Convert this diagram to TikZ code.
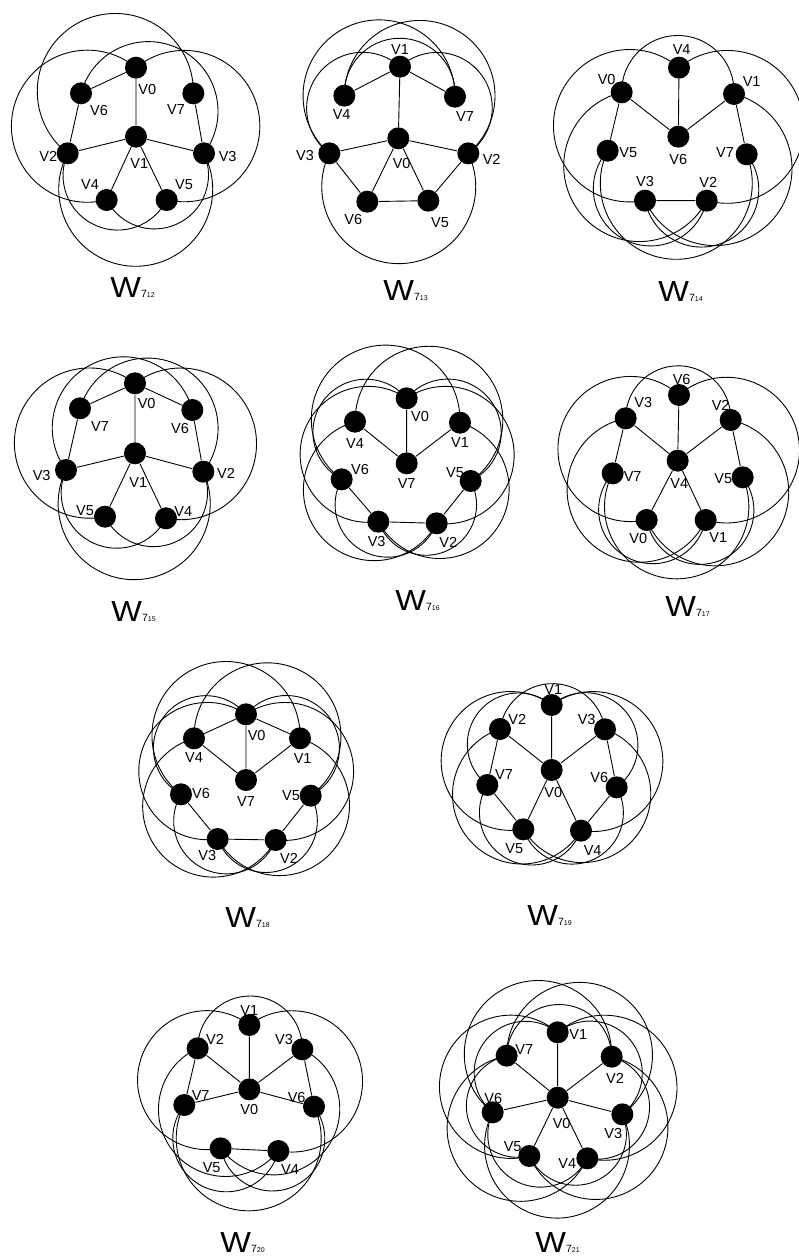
\documentclass[tikz,border=0pt]{standalone}
\usepackage{fontspec}
\usepackage{graphicx}
\setmainfont{Liberation Sans}
\usetikzlibrary{calc}
\tikzset{
 vx/.style={circle,fill=black,inner sep=0pt,minimum size=22pt},
 lb/.style={inner sep=0pt,font=\fontsize{14.5}{15}\selectfont},
 ttl/.style={inner sep=0pt,anchor=base west},
 gsc/.style={x=0.333333pt,y=-0.333333pt}
}
\newcommand\wttl[1]{\scalebox{1.12}[1]{\fontsize{29}{29}\selectfont W}{\fontsize{10.5}{10}\selectfont 7}{\fontsize{7}{7}\selectfont #1}}
% circular arc from node #1 to node #2, centre near (#3,#4), sense #5 (1 ccw, -1 cw)
\newcommand\carc[5]{%
 \pgfpointanchor{#1}{center}\pgfgetlastxy{\CAx}{\CAy}%
 \pgfpointanchor{#2}{center}\pgfgetlastxy{\CBx}{\CBy}%
 \pgfpointxy{#3}{#4}\pgfgetlastxy{\CQx}{\CQy}%
 \pgfmathsetmacro\CD{veclen((\CBx)-(\CAx),(\CBy)-(\CAy))}%
 \pgfmathsetmacro\CMx{((\CAx)+(\CBx))/2}%
 \pgfmathsetmacro\CMy{((\CAy)+(\CBy))/2}%
 \pgfmathsetmacro\CNx{((\CAy)-(\CBy))/(\CD)}%
 \pgfmathsetmacro\CNy{((\CBx)-(\CAx))/(\CD)}%
 \pgfmathsetmacro\CH{((\CQx)-(\CMx))*(\CNx)+((\CQy)-(\CMy))*(\CNy)}%
 \pgfmathsetmacro\CCx{(\CMx)+(\CH)*(\CNx)}%
 \pgfmathsetmacro\CCy{(\CMy)+(\CH)*(\CNy)}%
 \pgfmathsetmacro\CR{veclen((\CAx)-(\CCx),(\CAy)-(\CCy))}%
 \pgfmathsetmacro\CSa{atan2((\CAy)-(\CCy),(\CAx)-(\CCx))}%
 \pgfmathsetmacro\CSb{atan2((\CBy)-(\CCy),(\CBx)-(\CCx))}%
 \pgfmathsetmacro\CE{(\CSb)+360*((#5)>0)*((\CSb)<(\CSa))-360*((#5)<0)*((\CSb)>(\CSa))}%
 \draw (#1.center) arc[start angle=\CSa, end angle=\CE, radius=\CR pt];%
}
\begin{document}
\begin{tikzpicture}[x=1pt,y=-1pt,line width=0.9pt]
\useasboundingbox (0,0) rectangle (799,1258);
\fill[white] (0,0) rectangle (799,1258);

% ---------- W7_12 ----------
\begin{scope}[shift={(0,0)},gsc]
\node[vx] (a0) at (408,203) {};
\node[vx] (a1) at (408,410) {};
\node[vx] (a2) at (203,460) {};
\node[vx] (a3) at (612,460) {};
\node[vx] (a4) at (320,600) {};
\node[vx] (a5) at (500,600) {};
\node[vx] (a6) at (243,280) {};
\node[vx] (a7) at (580,280) {};
\node[lb] (la0) at (442,270) {V0};
\node[lb] (la1) at (418,490) {V1};
\node[lb] (la2) at (145,468) {V2};
\node[lb] (la3) at (683,470) {V3};
\node[lb] (la4) at (270,555) {V4};
\node[lb] (la5) at (552,555) {V5};
\node[lb] (la6) at (297,333) {V6};
\node[lb] (la7) at (528,330) {V7};
\draw (a0)--(a6) (a0)--(a1) (a6)--(a2) (a7)--(a3) (a1)--(a2) (a1)--(a3) (a1)--(a4) (a1)--(a5);
\carc{a7}{a2}{345}{275}{1}
\carc{a6}{a3}{445}{334}{-1}
\carc{a0}{a4}{262}{380}{1}
\carc{a0}{a5}{553}{380}{-1}
\carc{a2}{a3}{407}{568}{1}
\carc{a2}{a5}{353}{526}{1}
\carc{a3}{a4}{461}{526}{-1}
\end{scope}
\node[ttl] (t1) at (110,297) {\wttl{12}};

% ---------- W7_13 ----------
\begin{scope}[shift={(265,0)},gsc]
\node[vx] (b0) at (400,415) {};
\node[vx] (b1) at (405,200) {};
\node[vx] (b2) at (610,460) {};
\node[vx] (b3) at (193,460) {};
\node[vx] (b4) at (238,287) {};
\node[vx] (b5) at (490,602) {};
\node[vx] (b6) at (307,605) {};
\node[vx] (b7) at (570,290) {};
\node[lb] (lb0) at (410,490) {V0};
\node[lb] (lb1) at (405,150) {V1};
\node[lb] (lb2) at (680,478) {V2};
\node[lb] (lb3) at (120,468) {V3};
\node[lb] (lb4) at (230,345) {V4};
\node[lb] (lb5) at (525,668) {V5};
\node[lb] (lb6) at (265,660) {V6};
\node[lb] (lb7) at (600,350) {V7};
\draw (b1)--(b4) (b1)--(b7) (b1)--(b0) (b0)--(b3) (b0)--(b2) (b0)--(b6) (b0)--(b5) (b3)--(b6) (b6)--(b5) (b5)--(b2);
\carc{b4}{b7}{404}{281}{-1}
\carc{b4}{b2}{476}{293}{-1}
\carc{b7}{b3}{330}{293}{1}
\carc{b1}{b3}{290}{328}{1}
\carc{b1}{b2}{520}{328}{-1}
\carc{b3}{b2}{400}{560}{1}
\end{scope}
\node[ttl] (t2) at (383,300) {\wttl{13}};

% ---------- W7_14 ----------
\begin{scope}[shift={(530,0)},gsc]
\node[vx] (c0) at (275,277) {};
\node[vx] (c1) at (612,282) {};
\node[vx] (c2) at (530,602) {};
\node[vx] (c3) at (345,602) {};
\node[vx] (c4) at (447,203) {};
\node[vx] (c5) at (233,452) {};
\node[vx] (c6) at (445,410) {};
\node[vx] (c7) at (650,463) {};
\node[lb] (lc0) at (230,240) {V0};
\node[lb] (lc1) at (665,245) {V1};
\node[lb] (lc2) at (535,548) {V2};
\node[lb] (lc3) at (345,545) {V3};
\node[lb] (lc4) at (455,150) {V4};
\node[lb] (lc5) at (295,458) {V5};
\node[lb] (lc6) at (445,480) {V6};
\node[lb] (lc7) at (585,458) {V7};
\draw (c4)--(c6) (c0)--(c6) (c1)--(c6) (c0)--(c5) (c1)--(c7) (c3)--(c2);
\carc{c0}{c1}{445}{275}{-1}
\carc{c4}{c3}{298}{380}{1}
\carc{c4}{c2}{592}{380}{-1}
\carc{c0}{c2}{330}{500}{1}
\carc{c1}{c3}{560}{500}{-1}
\carc{c5}{c7}{441}{550}{1}
\carc{c3}{c7}{514}{569}{1}
\carc{c2}{c5}{368}{569}{-1}
\end{scope}
\node[ttl] (t3) at (658,301) {\wttl{14}};

% ---------- W7_15 ----------
\begin{scope}[shift={(0,320)},gsc]
\node[vx] (d0) at (405,190) {};
\node[vx] (d1) at (405,400) {};
\node[vx] (d2) at (610,455) {};
\node[vx] (d3) at (198,450) {};
\node[vx] (d4) at (498,595) {};
\node[vx] (d5) at (315,590) {};
\node[vx] (d6) at (577,270) {};
\node[vx] (d7) at (240,265) {};
\node[lb] (ld0) at (440,250) {V0};
\node[lb] (ld1) at (415,487) {V1};
\node[lb] (ld2) at (678,460) {V2};
\node[lb] (ld3) at (125,467) {V3};
\node[lb] (ld4) at (550,575) {V4};
\node[lb] (ld5) at (255,573) {V5};
\node[lb] (ld6) at (540,325) {V6};
\node[lb] (ld7) at (300,320) {V7};
\draw (d0)--(d7) (d0)--(d6) (d0)--(d1) (d7)--(d3) (d6)--(d2) (d1)--(d3) (d1)--(d2) (d1)--(d5) (d1)--(d4);
\carc{d3}{d6}{370}{324}{-1}
\carc{d2}{d7}{440}{324}{1}
\carc{d0}{d5}{266}{380}{1}
\carc{d0}{d4}{544}{380}{-1}
\carc{d3}{d2}{404}{551}{1}
\carc{d3}{d4}{350}{518}{1}
\carc{d2}{d5}{460}{518}{-1}
\end{scope}
\node[ttl] (t4) at (111,621) {\wttl{15}};

% ---------- W7_16 ----------
\begin{scope}[shift={(265,320)},gsc]
\node[vx] (e0) at (425,235) {};
\node[vx] (e1) at (585,308) {};
\node[vx] (e2) at (515,610) {};
\node[vx] (e3) at (340,605) {};
\node[vx] (e4) at (270,305) {};
\node[vx] (e5) at (617,483) {};
\node[vx] (e6) at (230,478) {};
\node[vx] (e7) at (425,430) {};
\node[lb] (le0) at (465,290) {V0};
\node[lb] (le1) at (585,368) {V1};
\node[lb] (le2) at (550,668) {V2};
\node[lb] (le3) at (335,665) {V3};
\node[lb] (le4) at (270,370) {V4};
\node[lb] (le5) at (570,458) {V5};
\node[lb] (le6) at (285,450) {V6};
\node[lb] (le7) at (425,490) {V7};
\draw (e0)--(e7) (e4)--(e7) (e1)--(e7) (e6)--(e3) (e5)--(e2) (e3)--(e2);
\carc{e6}{e1}{362}{298}{-1}
\carc{e5}{e4}{488}{298}{1}
\carc{e0}{e6}{300}{340}{1}
\carc{e0}{e5}{550}{340}{-1}
\carc{e4}{e2}{320}{500}{1}
\carc{e1}{e3}{530}{500}{-1}
\carc{e6}{e2}{380}{560}{1}
\carc{e5}{e3}{470}{560}{-1}
\carc{e0}{e3}{310}{400}{1}
\carc{e0}{e2}{540}{400}{-1}
\end{scope}
\node[ttl] (t5) at (395,610) {\wttl{16}};

% ---------- W7_17 ----------
\begin{scope}[shift={(530,320)},gsc]
\node[vx] (f0) at (350,600) {};
\node[vx] (f1) at (527,600) {};
\node[vx] (f2) at (602,300) {};
\node[vx] (f3) at (287,295) {};
\node[vx] (f4) at (443,422) {};
\node[vx] (f5) at (638,472) {};
\node[vx] (f6) at (447,225) {};
\node[vx] (f7) at (248,460) {};
\node[lb] (lf0) at (325,655) {V0};
\node[lb] (lf1) at (565,652) {V1};
\node[lb] (lf2) at (572,255) {V2};
\node[lb] (lf3) at (340,248) {V3};
\node[lb] (lf4) at (448,490) {V4};
\node[lb] (lf5) at (580,475) {V5};
\node[lb] (lf6) at (455,178) {V6};
\node[lb] (lf7) at (308,470) {V7};
\draw (f6)--(f4) (f3)--(f4) (f2)--(f4) (f4)--(f0) (f4)--(f1) (f3)--(f7) (f2)--(f5);
\carc{f3}{f2}{445}{295}{-1}
\carc{f6}{f0}{298}{400}{1}
\carc{f6}{f1}{592}{400}{-1}
\carc{f3}{f1}{330}{510}{1}
\carc{f2}{f0}{560}{510}{-1}
\carc{f7}{f5}{441}{560}{1}
\carc{f0}{f5}{514}{569}{1}
\carc{f1}{f7}{368}{569}{-1}
\end{scope}
\node[ttl] (t6) at (665,616) {\wttl{17}};

% ---------- W7_18 ----------
\begin{scope}[shift={(120,630)},gsc]
\node[vx] (g0) at (378,253) {};
\node[vx] (g1) at (540,325) {};
\node[vx] (g2) at (467,630) {};
\node[vx] (g3) at (293,627) {};
\node[vx] (g4) at (222,325) {};
\node[vx] (g5) at (572,497) {};
\node[vx] (g6) at (183,493) {};
\node[vx] (g7) at (378,450) {};
\node[lb] (lg0) at (410,318) {V0};
\node[lb] (lg1) at (548,385) {V1};
\node[lb] (lg2) at (507,685) {V2};
\node[lb] (lg3) at (262,678) {V3};
\node[lb] (lg4) at (222,383) {V4};
\node[lb] (lg5) at (513,497) {V5};
\node[lb] (lg6) at (243,490) {V6};
\node[lb] (lg7) at (378,515) {V7};
\draw (g0)--(g4) (g0)--(g1) (g0)--(g7) (g4)--(g7) (g1)--(g7) (g6)--(g3) (g5)--(g2) (g3)--(g2);
\carc{g6}{g1}{315}{318}{-1}
\carc{g5}{g4}{441}{318}{1}
\carc{g0}{g6}{253}{360}{1}
\carc{g0}{g5}{503}{360}{-1}
\carc{g4}{g2}{273}{520}{1}
\carc{g1}{g3}{483}{520}{-1}
\carc{g6}{g2}{333}{580}{1}
\carc{g5}{g3}{423}{580}{-1}
\carc{g0}{g3}{263}{420}{1}
\carc{g0}{g2}{493}{420}{-1}
\end{scope}
\node[ttl] (t7) at (225,927) {\wttl{18}};

% ---------- W7_19 ----------
\begin{scope}[shift={(400,630)},gsc]
\node[vx] (h0) at (455,420) {};
\node[vx] (h1) at (455,225) {};
\node[vx] (h2) at (300,297) {};
\node[vx] (h3) at (615,298) {};
\node[vx] (h4) at (543,602) {};
\node[vx] (h5) at (370,598) {};
\node[vx] (h6) at (650,472) {};
\node[vx] (h7) at (262,465) {};
\node[lb] (lh0) at (460,488) {V0};
\node[lb] (lh1) at (460,178) {V1};
\node[lb] (lh2) at (352,268) {V2};
\node[lb] (lh3) at (560,270) {V3};
\node[lb] (lh4) at (578,662) {V4};
\node[lb] (lh5) at (343,655) {V5};
\node[lb] (lh6) at (598,443) {V6};
\node[lb] (lh7) at (312,435) {V7};
\draw (h1)--(h0) (h2)--(h0) (h3)--(h0) (h2)--(h7) (h3)--(h6) (h7)--(h5) (h6)--(h4) (h0)--(h5) (h0)--(h4);
\carc{h2}{h3}{457}{320}{-1}
\carc{h1}{h5}{330}{400}{1}
\carc{h1}{h4}{580}{400}{-1}
\carc{h2}{h4}{370}{500}{1}
\carc{h3}{h5}{540}{500}{-1}
\carc{h7}{h4}{420}{560}{1}
\carc{h6}{h5}{490}{560}{-1}
\carc{h1}{h6}{560}{350}{-1}
\carc{h1}{h7}{350}{350}{1}
\end{scope}
\node[ttl] (t8) at (527,925) {\wttl{19}};

% ---------- W7_20 ----------
\begin{scope}[shift={(130,935)},gsc]
\node[vx] (i0) at (358,463) {};
\node[vx] (i1) at (358,270) {};
\node[vx] (i2) at (203,340) {};
\node[vx] (i3) at (517,343) {};
\node[vx] (i4) at (445,648) {};
\node[vx] (i5) at (272,640) {};
\node[vx] (i6) at (552,515) {};
\node[vx] (i7) at (163,510) {};
\node[lb] (li0) at (358,523) {V0};
\node[lb] (li1) at (358,225) {V1};
\node[lb] (li2) at (255,312) {V2};
\node[lb] (li3) at (462,312) {V3};
\node[lb] (li4) at (480,705) {V4};
\node[lb] (li5) at (245,697) {V5};
\node[lb] (li6) at (500,488) {V6};
\node[lb] (li7) at (212,483) {V7};
\draw (i1)--(i0) (i2)--(i0) (i3)--(i0) (i7)--(i0) (i6)--(i0) (i2)--(i7) (i3)--(i6) (i5)--(i4);
\carc{i2}{i3}{360}{340}{-1}
\carc{i1}{i5}{230}{440}{1}
\carc{i1}{i4}{486}{440}{-1}
\carc{i2}{i4}{300}{540}{1}
\carc{i3}{i5}{416}{540}{-1}
\carc{i7}{i6}{358}{610}{1}
\carc{i7}{i4}{310}{620}{1}
\carc{i6}{i5}{406}{620}{-1}
\end{scope}
\node[ttl] (t9) at (220,1252) {\wttl{20}};

% ---------- W7_21 ----------
\begin{scope}[shift={(420,935)},gsc]
\node[vx] (j0) at (413,488) {};
\node[vx] (j1) at (413,292) {};
\node[vx] (j2) at (575,365) {};
\node[vx] (j3) at (607,538) {};
\node[vx] (j4) at (502,670) {};
\node[vx] (j5) at (328,663) {};
\node[vx] (j6) at (218,532) {};
\node[vx] (j7) at (260,362) {};
\node[lb] (lj0) at (425,565) {V0};
\node[lb] (lj1) at (475,300) {V1};
\node[lb] (lj2) at (585,430) {V2};
\node[lb] (lj3) at (580,595) {V3};
\node[lb] (lj4) at (442,685) {V4};
\node[lb] (lj5) at (278,635) {V5};
\node[lb] (lj6) at (220,490) {V6};
\node[lb] (lj7) at (313,343) {V7};
\draw (j0)--(j1) (j0)--(j2) (j0)--(j3) (j0)--(j4) (j0)--(j5) (j0)--(j6) (j0)--(j7);
\carc{j1}{j3}{508}{412}{-1}
\carc{j2}{j4}{532}{515}{-1}
\carc{j3}{j5}{466}{598}{-1}
\carc{j4}{j6}{360}{598}{-1}
\carc{j5}{j7}{294}{515}{-1}
\carc{j6}{j1}{318}{412}{-1}
\carc{j7}{j2}{413}{366}{-1}
\carc{j1}{j4}{553}{456}{-1}
\carc{j2}{j5}{525}{578}{-1}
\carc{j3}{j6}{413}{632}{-1}
\carc{j4}{j7}{301}{578}{-1}
\carc{j5}{j1}{273}{456}{-1}
\carc{j6}{j2}{351}{359}{-1}
\carc{j7}{j3}{475}{359}{-1}
\end{scope}
\node[ttl] (t10) at (535,1252) {\wttl{21}};
\end{tikzpicture}
\end{document}
